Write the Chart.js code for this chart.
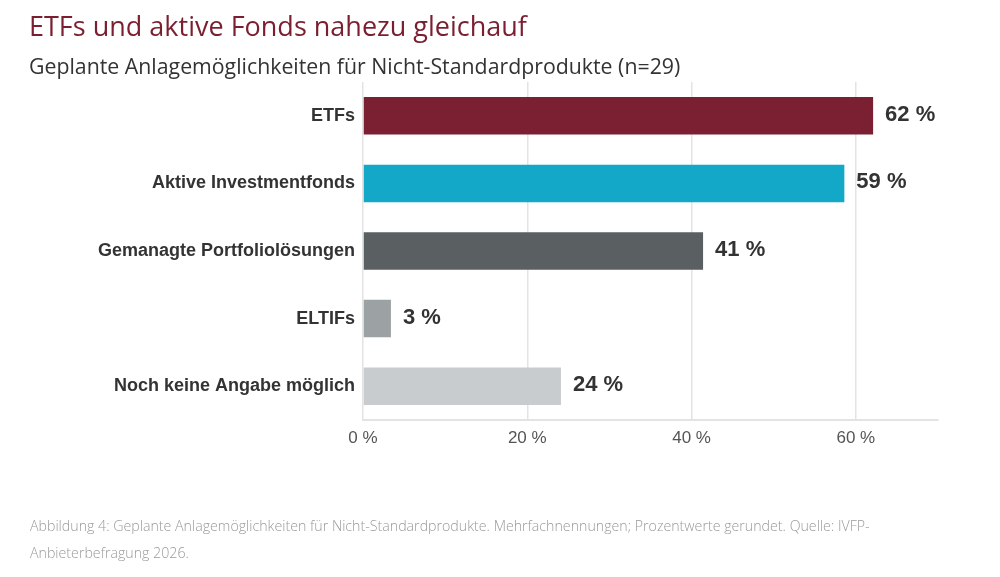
<!DOCTYPE html>
<html lang="de">
<head>
<meta charset="utf-8">
<script src="https://cdn.jsdelivr.net/npm/chart.js@4"></script>
<style>
  html, body { margin: 0; padding: 0; background: #fff; }
  body { width: 1000px; height: 577px; position: relative; overflow: hidden; }
  #chartWrap { position: absolute; left: 0; top: 0; width: 1000px; height: 577px; }
  .title { position: absolute; left: 29px; top: 7px; font-family: "Open Sans", sans-serif; font-size: 27px; color: #7b1f30; white-space: nowrap; }
  .subtitle { position: absolute; left: 29px; top: 51px; font-family: "Open Sans", sans-serif; font-size: 21.3px; color: #333; white-space: nowrap; }
  .note { position: absolute; left: 30px; top: 512px; width: 960px; font-family: "Open Sans", sans-serif; font-weight: 300; font-size: 14.2px; line-height: 27px; color: #9a9a9a; }
</style>
</head>
<body>
<div id="chartWrap"><canvas id="planChart"></canvas></div>
<div class="title">ETFs und aktive Fonds nahezu gleichauf</div>
<div class="subtitle">Geplante Anlagemöglichkeiten für Nicht-Standardprodukte (n=29)</div>
<div class="note">Abbildung 4: Geplante Anlagemöglichkeiten für Nicht-Standardprodukte. Mehrfachnennungen; Prozentwerte gerundet. Quelle: IVFP-<br>Anbieterbefragung 2026.</div>
<script>
var categories = ['ETFs', 'Aktive Investmentfonds', 'Gemanagte Portfoliolösungen', 'ELTIFs', 'Noch keine Angabe möglich'];
var shares = [62.1, 58.6, 41.4, 3.4, 24.1];
var barColors = ['#7b1f32', '#13a7c8', '#5a5f62', '#9ca1a4', '#c9ccce'];
var tickValues = [0, 20, 40, 60];

// Prozentwerte (gerundet) rechts neben die Balken schreiben
var valueLabels = {
    id: 'valueLabels',
    afterDatasetsDraw: function(chart) {
        var ctx = chart.ctx;
        var meta = chart.getDatasetMeta(0);
        ctx.save();
        ctx.font = 'bold 22px "Liberation Sans", Arial, sans-serif';
        ctx.fillStyle = '#333';
        ctx.textAlign = 'left';
        ctx.textBaseline = 'middle';
        meta.data.forEach(function(bar, i) {
            ctx.fillText(Math.round(shares[i]) + ' %', bar.x + 12, bar.y - 1);
        });
        ctx.restore();
    }
};

var ctx = document.getElementById('planChart').getContext('2d');
var planChart = new Chart(ctx, {
    type: 'bar',
    data: {
        labels: categories,
        datasets: [{
            data: shares,
            backgroundColor: barColors,
            borderWidth: 0,
            barPercentage: 0.555,
            categoryPercentage: 1
        }]
    },
    options: {
        indexAxis: 'y',
        responsive: true,
        maintainAspectRatio: false,
        animation: false,
        layout: {
            padding: { left: 0, top: 82, right: 62, bottom: 117 }
        },
        scales: {
            x: {
                min: 0,
                max: 70,
                afterBuildTicks: function(axis) {
                    axis.ticks = tickValues.map(function(v) { return { value: v }; });
                },
                afterFit: function(axis) { axis.height = 40; },
                grid: { color: '#e3e3e3', lineWidth: 1.5, drawTicks: false },
                border: { color: '#e3e3e3', width: 2 },
                ticks: {
                    padding: 8,
                    color: '#555',
                    font: { family: '"Liberation Sans", Arial, sans-serif', size: 17 },
                    callback: function(value) { return value + ' %'; }
                }
            },
            y: {
                afterFit: function(axis) { axis.width = 363; },
                grid: { display: false, drawTicks: false },
                border: { display: false },
                ticks: {
                    padding: 8,
                    color: '#333',
                    font: { family: '"Liberation Sans", Arial, sans-serif', size: 18, weight: 'bold' }
                }
            }
        },
        plugins: {
            legend: { display: false },
            tooltip: { enabled: false }
        }
    },
    plugins: [valueLabels]
});
</script>
</body>
</html>
